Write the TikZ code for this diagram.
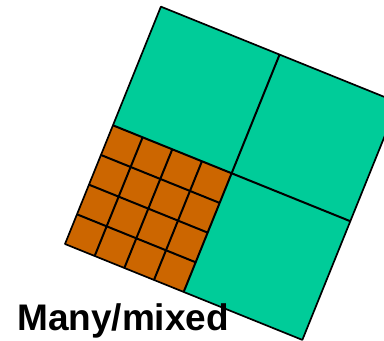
\documentclass[tikz,border=0pt]{standalone}
\usepackage{fontspec}
\setmainfont{Liberation Sans}
\usetikzlibrary{positioning}
\definecolor{coarse}{HTML}{00CC99}
\definecolor{fine}{HTML}{CC6600}

\begin{document}
\begin{tikzpicture}[x=1pt,y=1pt,
  cell/.style={draw=black,line width=2pt,line join=round},
  lab/.style={font=\bfseries\fontsize{37}{40}\selectfont,inner sep=0pt,anchor=base west}]
\useasboundingbox (0,0) rectangle (384,341);
\clip (0,0) rectangle (384,341);
\begin{scope}[shift={(65,97)},rotate=-22,x=16pt,y=16pt]
  \fill[coarse] (0,0) rectangle (16,16);
  \fill[fine] (0,0) rectangle (8,8);
  % fine cells in the lower left quarter
  \foreach \k in {2,4,6} {
    \draw[cell] (\k,0) -- (\k,8);
    \draw[cell] (0,\k) -- (8,\k);
  }
  \draw[cell] (8,0) -- (8,16);
  \draw[cell] (0,8) -- (16,8);
  \draw[cell,line width=1.7pt] (0,0) rectangle (16,16);
\end{scope}
\node[lab] (caption) at (17,10.3) {Many/mixed};
\end{tikzpicture}
\end{document}
